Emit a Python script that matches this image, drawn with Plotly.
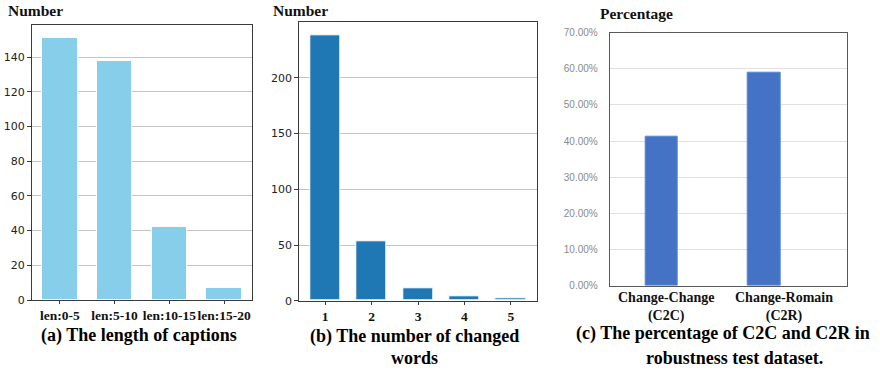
import plotly.graph_objects as go

# ---- data ----
len_categories = ["len:0-5", "len:5-10", "len:10-15", "len:15-20"]
len_counts = [151, 138, 42, 7]

changed_words = ["1", "2", "3", "4", "5"]
changed_counts = [238, 53, 11, 4, 2]

pair_categories = ["Change-Change<br>(C2C)", "Change-Romain<br>(C2R)"]
pair_share = [0.412, 0.588]

W, H = 880, 371


def px_x(a, b):
    return [a / W, b / W]


def px_y(top, bottom):
    return [1 - bottom / H, 1 - top / H]


SERIF = "Liberation Serif"
SANS = "DejaVu Sans"

fig = go.Figure()

fig.add_trace(go.Bar(x=list(range(len(len_categories))), y=len_counts, width=0.65,
                     marker=dict(color="#87CEEB", line=dict(color="white", width=1)),
                     xaxis="x", yaxis="y", showlegend=False))
fig.add_trace(go.Bar(x=list(range(len(changed_words))), y=changed_counts, width=0.65,
                     marker=dict(color="#1f77b4", line=dict(color="white", width=1)),
                     xaxis="x2", yaxis="y2", showlegend=False))
fig.add_trace(go.Bar(x=list(range(len(pair_categories))), y=pair_share, width=0.317,
                     marker=dict(color="#4472C4", line=dict(color="#5b86d6", width=1)),
                     xaxis="x3", yaxis="y3", showlegend=False))

frame_mpl = dict(showline=True, mirror=True, linecolor="#3a3a3a", linewidth=1, automargin=False)

n_a = len(len_categories)
n_b = len(changed_words)
fig.update_layout(
    width=W, height=H, margin=dict(l=0, r=0, t=0, b=0),
    paper_bgcolor="white", plot_bgcolor="white", bargap=0,
    xaxis=dict(domain=px_x(32, 252), anchor="y",
               range=[-0.325 - 0.05 * (n_a - 1 + 0.65), n_a - 1 + 0.325 + 0.05 * (n_a - 1 + 0.65)],
               tickmode="array", tickvals=list(range(n_a)), ticktext=len_categories,
               tickangle=0,
               tickfont=dict(family=SERIF, size=13.5, color="#111", weight="bold"),
               ticks="outside", ticklen=3, tickcolor="#3a3a3a",
               showgrid=False, zeroline=False, **frame_mpl),
    yaxis=dict(domain=px_y(25, 300), anchor="x",
               range=[0, max(len_counts) * 1.05], dtick=20,
               tickfont=dict(family=SANS, size=11, color="#222"),
               ticks="outside", ticklen=4, tickcolor="#3a3a3a",
               showgrid=True, gridcolor="#c4c4c4", gridwidth=1, zeroline=False, **frame_mpl),
    xaxis2=dict(domain=px_x(299.3, 536.7), anchor="y2",
                range=[-0.325 - 0.05 * (n_b - 1 + 0.65), n_b - 1 + 0.325 + 0.05 * (n_b - 1 + 0.65)],
                tickmode="array", tickvals=list(range(n_b)), ticktext=changed_words,
                tickangle=0,
                tickfont=dict(family=SERIF, size=13.5, color="#111", weight="bold"),
                ticks="outside", ticklen=3, tickcolor="#3a3a3a",
                showgrid=False, zeroline=False, **frame_mpl),
    yaxis2=dict(domain=px_y(22.3, 300.7), anchor="x2",
                range=[0, max(changed_counts) * 1.05], dtick=50,
                tickfont=dict(family=SANS, size=11, color="#222"),
                ticks="outside", ticklen=4, tickcolor="#3a3a3a",
                showgrid=True, gridcolor="#c4c4c4", gridwidth=1, zeroline=False, **frame_mpl),
    xaxis3=dict(domain=px_x(609.7, 847), anchor="y3", range=[-0.505, 1.81],
                showticklabels=False, ticks="", showgrid=False, zeroline=False, automargin=False,
                showline=True, mirror=True, linecolor="#595959", linewidth=1),
    yaxis3=dict(domain=px_y(32.7, 285.7), anchor="x3", range=[0, 0.7], dtick=0.1,
                tickformat=".2%", tickfont=dict(family="Liberation Sans", size=10, color="#8a8a8a"),
                ticks="", ticklabelstandoff=9, automargin=False,
                showgrid=True, gridcolor="#e0e0e0", gridwidth=1, zeroline=False,
                showline=True, mirror=True, linecolor="#595959", linewidth=1),
)

anns = []
# y-axis titles
for txt, x0, y0 in [("Number", 5.7, 11), ("Number", 271, 11), ("Percentage", 598, 14)]:
    anns.append(dict(text=txt, x=x0 / W, y=1 - y0 / H, xref="paper", yref="paper",
                     xanchor="left", yanchor="middle", showarrow=False,
                     font=dict(family=SERIF, size=15.5, color="#111", weight="bold")))
# panel (c) category labels
for i, (cat, xs) in enumerate(zip(pair_categories, [5, 20])):
    anns.append(dict(text=cat, x=i, y=0, xref="x3", yref="y3", xshift=xs, yshift=-2,
                     xanchor="center", yanchor="top", showarrow=False,
                     font=dict(family=SERIF, size=14, color="#111", weight="bold")))
# captions
caps = [("(a) The length of captions", 138.5, 335),
        ("(b) The number of changed", 414, 336.5),
        ("words", 414, 358),
        ("(c) The percentage of C2C and C2R in", 723, 333.5),
        ("robustness test dataset.", 734, 357.5)]
for txt, x0, y0 in caps:
    anns.append(dict(text=txt, x=x0 / W, y=1 - y0 / H, xref="paper", yref="paper",
                     xanchor="center", yanchor="middle", showarrow=False,
                     font=dict(family=SERIF, size=18, color="#000", weight="bold")))
fig.update_layout(annotations=anns)

fig.write_html("out.html",
               config={"displayModeBar": False},
               post_script="document.body.style.margin='0';document.body.style.overflow='hidden';")
